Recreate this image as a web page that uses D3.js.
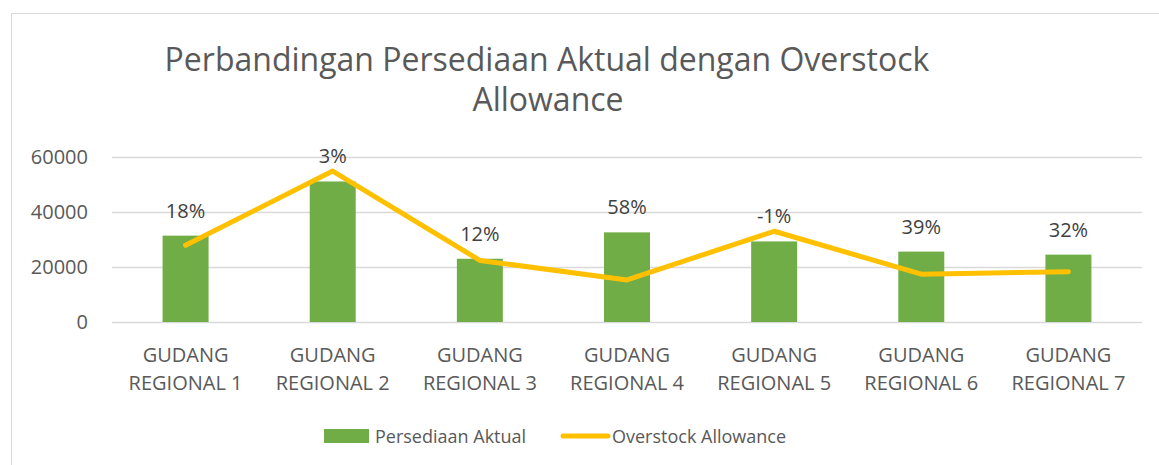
<!DOCTYPE html>
<html>
<head>
<meta charset="utf-8">
<script src="https://cdn.jsdelivr.net/npm/d3@7"></script>
<style>
  body { margin: 0; background: #fff; }
  svg { display: block; font-family: 'Open Sans', 'Noto Sans', sans-serif; }
</style>
</head>
<body>
<div id="graf"></div>
<script>
// Datos
gudang = ['GUDANG REGIONAL 1', 'GUDANG REGIONAL 2', 'GUDANG REGIONAL 3', 'GUDANG REGIONAL 4',
          'GUDANG REGIONAL 5', 'GUDANG REGIONAL 6', 'GUDANG REGIONAL 7']
persediaan = [31400, 51100, 23000, 32600, 29300, 25600, 24500]
overstock  = [27900, 54900, 22400, 15300, 33000, 17400, 18300]
etiquetas  = ['18%', '3%', '12%', '58%', '-1%', '39%', '32%']
yTicks     = [0, 20000, 40000, 60000]

ancho_total = 1159
alto_total = 465

margins = {top: 157, left: 112, right: 17, bottom: 143}
ancho = ancho_total - margins.left - margins.right
alto  = alto_total - margins.top - margins.bottom

svg = d3.select('#graf').append('svg')
        .attr('width', ancho_total)
        .attr('height', alto_total)

// borde del área del gráfico
svg.append('rect')
   .attr('x', 11.5).attr('y', 13.5)
   .attr('width', ancho_total).attr('height', alto_total)
   .attr('fill', 'none')
   .attr('stroke', '#d9d9d9')

// titulo
titulo = svg.append('text')
            .attr('text-anchor', 'middle')
            .attr('fill', '#595959')
            .style('font-size', '32px')
titulo.append('tspan').attr('x', 547).attr('y', 71)
      .text('Perbandingan Persediaan Aktual dengan Overstock')
titulo.append('tspan').attr('x', 548).attr('y', 111)
      .text('Allowance')

g = svg.append('g')
       .attr('transform', `translate(${margins.left}, ${margins.top})`)

// -- Escaladores --
y = d3.scaleLinear().domain([0, 60000]).range([alto, 0])
x = d3.scaleBand().domain(gudang).range([0, ancho])
barW = x.bandwidth() / 3.2

// grid
g.selectAll('.grid').data(yTicks).enter()
 .append('line')
   .attr('x1', 0).attr('x2', ancho)
   .attr('y1', d => Math.round(y(d)) + 0.5)
   .attr('y2', d => Math.round(y(d)) + 0.5)
   .attr('stroke', '#d9d9d9')
   .attr('stroke-width', 1.3)

// eje y
yAxisCall = d3.axisLeft(y).tickValues(yTicks).tickSize(0).tickPadding(24).tickFormat(d3.format('d'))
yAxisGroup = g.append('g').call(yAxisCall)
yAxisGroup.select('.domain').remove()
yAxisGroup.selectAll('text')
          .attr('fill', '#595959')
          .style('font-size', '20px')
          .style('font-family', "'Open Sans', sans-serif")

// barras
g.selectAll('rect.bar').data(persediaan).enter()
 .append('rect')
   .attr('class', 'bar')
   .attr('x', (d, i) => x(gudang[i]) + x.bandwidth() / 2 - barW / 2)
   .attr('y', d => y(d))
   .attr('width', barW)
   .attr('height', d => alto - y(d))
   .attr('fill', '#70ad47')

// etiquetas de barras
g.selectAll('text.lbl').data(persediaan).enter()
 .append('text')
   .attr('class', 'lbl')
   .attr('x', (d, i) => x(gudang[i]) + x.bandwidth() / 2)
   .attr('y', d => y(d) - 18)
   .attr('text-anchor', 'middle')
   .attr('fill', '#404040')
   .style('font-size', '20px')
   .text((d, i) => etiquetas[i])

// linea
linea = d3.line()
          .x((d, i) => x(gudang[i]) + x.bandwidth() / 2)
          .y(d => y(d))
g.append('path')
 .datum(overstock)
 .attr('d', linea)
 .attr('fill', 'none')
 .attr('stroke', '#ffc000')
 .attr('stroke-width', 5)
 .attr('stroke-linecap', 'round')
 .attr('stroke-linejoin', 'round')

// eje x
xAxisCall = d3.axisBottom(x).tickSize(0).tickFormat('')
xAxisGroup = g.append('g').attr('transform', `translate(0, ${alto})`).call(xAxisCall)
xAxisGroup.select('.domain').remove()
xAxisGroup.selectAll('.tick').each(function (d) {
    t = d3.select(this).append('text')
          .attr('text-anchor', 'middle')
          .attr('fill', '#595959')
          .style('font-size', '20px')
          .style('font-family', "'Open Sans', sans-serif")
    parts = d.split(' ')
    t.append('tspan').attr('x', 0).attr('y', 40).text(parts[0])
    t.append('tspan').attr('x', 0).attr('y', 68).text(parts.slice(1).join(' '))
})

// leyenda
leyenda = svg.append('g').attr('transform', 'translate(324, 436)')
leyenda.append('rect')
       .attr('x', 0).attr('y', -7)
       .attr('width', 45).attr('height', 14)
       .attr('fill', '#70ad47')
leyenda.append('text')
       .attr('x', 51).attr('y', 6.5)
       .attr('fill', '#595959')
       .style('font-size', '18px')
       .text('Persediaan Aktual')
leyenda.append('line')
       .attr('x1', 239).attr('x2', 284)
       .attr('y1', 0).attr('y2', 0)
       .attr('stroke', '#ffc000')
       .attr('stroke-width', 5)
       .attr('stroke-linecap', 'round')
leyenda.append('text')
       .attr('x', 288).attr('y', 6.5)
       .attr('fill', '#595959')
       .style('font-size', '18px')
       .text('Overstock Allowance')
</script>
</body>
</html>
